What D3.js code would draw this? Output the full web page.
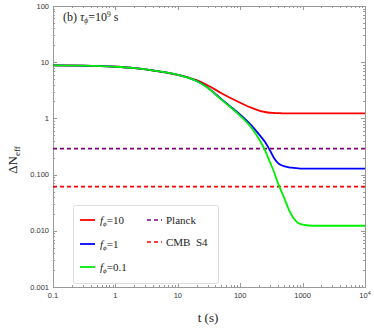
<!DOCTYPE html>
<html>
<head>
<meta charset="utf-8">
<script src="https://cdn.jsdelivr.net/npm/d3@7"></script>
<style>
  body { margin: 0; background: #fff; }
  svg { display: block; }
</style>
</head>
<body>
<svg id="chart" width="374" height="329"></svg>
<script>
// time grid (s)
const times = [0.1, 0.3, 1, 2, 5, 10, 15, 20, 30, 50, 70, 100, 150, 200, 250, 300, 350, 400, 450, 500, 600, 700, 850, 1000, 1500, 3000, 10000];
// Delta N_eff for each f_phi
const red   = [8.8, 8.7, 8.3, 7.85, 6.85, 5.96, 5.3, 4.8, 3.9, 2.8, 2.3, 1.9, 1.55, 1.38, 1.3, 1.26, 1.248, 1.24, 1.235, 1.23, 1.23, 1.23, 1.23, 1.23, 1.23, 1.23, 1.23];
const blue  = [8.8, 8.7, 8.3, 7.85, 6.85, 5.96, 5.25, 4.65, 3.55, 2.2, 1.62, 1.17, 0.76, 0.52, 0.38, 0.27, 0.195, 0.162, 0.148, 0.141, 0.135, 0.132, 0.129, 0.128, 0.128, 0.128, 0.128];
const green = [8.8, 8.7, 8.3, 7.85, 6.85, 5.96, 5.25, 4.62, 3.5, 2.16, 1.58, 1.11, 0.69, 0.43, 0.27, 0.166, 0.11, 0.072, 0.0525, 0.04, 0.024, 0.0174, 0.0138, 0.0129, 0.0123, 0.0123, 0.0123];
const planck = 0.29;
const cmbS4 = 0.061;
const xTicks = [0.1, 1, 10, 100, 1000, 10000];
const yTicks = [0.001, 0.01, 0.1, 1, 10, 100];
const yLabels = ["0.001", "0.010", "0.100", "1", "10", "100"];

const svg = d3.select("#chart");
const pLeft = 53, pRight = 365, pTop = 6, pBottom = 287;

const x = d3.scaleLog().domain([0.1, 10000]).range([pLeft, pRight]);
const y = d3.scaleLog().domain([0.001, 100]).range([pBottom, pTop]);

// minor ticks
function minors(lo, hi) {
    let out = [];
    for (let d = lo; d < hi * 0.99; d *= 10)
        for (let k = 1; k < 10; k++) out.push(d * k);
    out.push(hi);
    return out;
}
const xAll = minors(0.1, 10000);
const yAll = minors(0.001, 100);
const isMajor = v => Math.abs(Math.log10(v) - Math.round(Math.log10(v))) < 1e-6;

const axisColor = "#999";
const g = svg.append("g");

// frame
g.append("rect").attr("x", pLeft + 0.5).attr("y", pTop + 0.5)
    .attr("width", pRight - pLeft).attr("height", pBottom - pTop)
    .attr("fill", "none").attr("stroke", axisColor).attr("stroke-width", 1);

xAll.forEach(v => {
    const len = isMajor(v) ? 4 : 2;
    const px = Math.round(x(v)) + 0.5;
    g.append("line").attr("x1", px).attr("x2", px).attr("y1", pBottom).attr("y2", pBottom - len).attr("stroke", axisColor);
    g.append("line").attr("x1", px).attr("x2", px).attr("y1", pTop).attr("y2", pTop + len).attr("stroke", axisColor);
});
yAll.forEach(v => {
    const len = isMajor(v) ? 4 : 2;
    const py = Math.round(y(v)) + 0.5;
    g.append("line").attr("y1", py).attr("y2", py).attr("x1", pLeft).attr("x2", pLeft + len).attr("stroke", axisColor);
    g.append("line").attr("y1", py).attr("y2", py).attr("x1", pRight).attr("x2", pRight - len).attr("stroke", axisColor);
});

const tickFont = "Liberation Sans, Arial, sans-serif";
xTicks.forEach(v => {
    const t = g.append("text").attr("x", x(v)).attr("y", pBottom + 11)
        .attr("text-anchor", "middle").attr("font-family", tickFont).attr("font-size", 7.5).attr("fill", "#333");
    if (v === 10000) {
        t.append("tspan").text("10");
        t.append("tspan").attr("dy", -3).attr("font-size", 5.5).text("4");
    } else t.text(v >= 1 ? String(v) : "0.1");
});
yTicks.forEach((v, i) => {
    g.append("text").attr("x", pLeft - 4).attr("y", y(v) + 2.5)
        .attr("text-anchor", "end").attr("font-family", tickFont).attr("font-size", 7.5).attr("fill", "#333")
        .text(yLabels[i]);
});

const serif = "Liberation Serif, Times New Roman, serif";

// axis titles
const yl = svg.append("text").attr("transform", "translate(17,160) rotate(-90)")
    .attr("text-anchor", "middle").attr("font-family", serif).attr("font-size", 13).attr("fill", "#222");
yl.append("tspan").text("ΔN");
yl.append("tspan").attr("dy", 3).attr("font-size", 9).text("eff");

svg.append("text").attr("x", 208).attr("y", 322).attr("text-anchor", "middle")
    .attr("font-family", serif).attr("font-size", 13).attr("fill", "#222").text("t (s)");

// panel title
const ti = svg.append("text").attr("x", 63).attr("y", 21)
    .attr("font-family", serif).attr("font-size", 12).attr("fill", "#222");
ti.append("tspan").text("(b) ");
ti.append("tspan").attr("font-style", "italic").text("τ");
ti.append("tspan").attr("dy", 2).attr("font-size", 7.5).attr("font-style", "italic").text("ϕ");
ti.append("tspan").attr("dy", -2).text("=10");
ti.append("tspan").attr("dy", -4).attr("font-size", 7.5).text("9");
ti.append("tspan").attr("dy", 4).text(" s");

// clip
svg.append("clipPath").attr("id", "clip").append("rect")
    .attr("x", pLeft).attr("y", pTop).attr("width", pRight - pLeft).attr("height", pBottom - pTop);
const plot = svg.append("g").attr("clip-path", "url(#clip)");

// reference lines
plot.append("line").attr("x1", pLeft).attr("x2", pRight).attr("y1", y(planck)).attr("y2", y(planck))
    .attr("stroke", "#800080").attr("stroke-width", 1.6).attr("stroke-dasharray", "4,3");
plot.append("line").attr("x1", pLeft).attr("x2", pRight).attr("y1", y(cmbS4)).attr("y2", y(cmbS4))
    .attr("stroke", "#ff0000").attr("stroke-width", 1.6).attr("stroke-dasharray", "4,3");

const line = d3.line().x(d => x(d[0])).y(d => y(d[1])).curve(d3.curveMonotoneX);
const series = [
    { vals: red, color: "#ff0000" },
    { vals: blue, color: "#0000ff" },
    { vals: green, color: "#00ee00" }
];
series.forEach(s => {
    plot.append("path").datum(times.map((t, i) => [t, s.vals[i]]))
        .attr("d", line).attr("fill", "none").attr("stroke", s.color).attr("stroke-width", 1.8);
});

// legend
const lg = svg.append("g");
lg.append("rect").attr("x", 73.5).attr("y", 205.5).attr("width", 145).attr("height", 78)
    .attr("rx", 2).attr("fill", "#fff").attr("stroke", "#ddd").attr("stroke-width", 1);
const items1 = [["10", "#ff0000", 220], ["1", "#0000ff", 244], ["0.1", "#00ee00", 267]];
items1.forEach(([v, c, yy]) => {
    lg.append("line").attr("x1", 80).attr("x2", 95).attr("y1", yy).attr("y2", yy).attr("stroke", c).attr("stroke-width", 1.8);
    const t = lg.append("text").attr("x", 100).attr("y", yy + 4).attr("font-family", serif).attr("font-size", 11).attr("fill", "#222");
    t.append("tspan").attr("font-style", "italic").text("f");
    t.append("tspan").attr("dy", 2).attr("font-size", 7).attr("font-style", "italic").text("ϕ");
    t.append("tspan").attr("dy", -2).text("=" + v);
});
const items2 = [["Planck", "#800080", 220], ["CMB  S4", "#ff0000", 242]];
items2.forEach(([name, c, yy]) => {
    lg.append("line").attr("x1", 147).attr("x2", 162).attr("y1", yy).attr("y2", yy)
        .attr("stroke", c).attr("stroke-width", 1.6).attr("stroke-dasharray", "4,3");
    lg.append("text").attr("x", 166).attr("y", yy + 4).attr("font-family", serif).attr("font-size", 11)
        .attr("fill", "#222").attr("xml:space", "preserve").text(name);
});
</script>
</body>
</html>
